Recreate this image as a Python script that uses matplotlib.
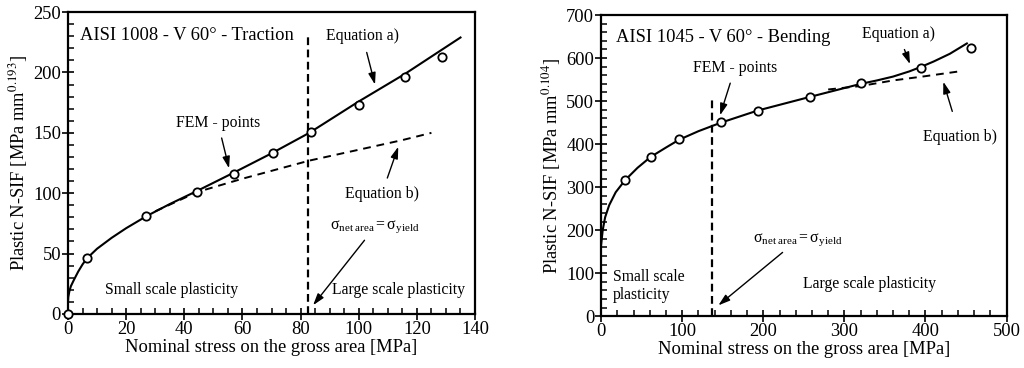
import matplotlib.pyplot as plt
from matplotlib.ticker import MultipleLocator

plt.rcParams['font.family'] = ['Liberation Serif', 'DejaVu Serif']
plt.rcParams['mathtext.fontset'] = 'stix'

# --- left panel: AISI 1008 traction ---
fem1_x = [0, 6.5, 27, 44.5, 57, 70.5, 83.5, 100, 116, 128.5]
fem1_y = [0, 46, 81, 101, 116, 133, 151, 173, 196, 213]
eqa1_x = [0, 0.1, 0.5, 1, 2, 3.5, 5, 6.5, 10, 15, 20, 27, 35, 44.5, 57, 70, 83, 100, 116, 135]
eqa1_y = [10, 14, 19, 23, 28, 35, 41, 46, 54, 63, 71, 81, 91, 102, 117, 133, 150, 176, 199, 229]
eqb1_x = [30, 44.5, 60, 83, 100, 115, 125]
eqb1_y = [85, 101, 112, 127, 136, 144, 150]
yield1_x = 82.5

# --- right panel: AISI 1045 bending ---
fem2_x = [29.5, 61, 96, 148, 193, 258, 320, 395, 456]
fem2_y = [316, 370, 411, 451, 478, 510, 541, 577, 624]
eqa2_x = [0, 2, 5, 10, 18, 29.5, 45, 61, 80, 96, 120, 148, 193, 258, 320, 340, 360, 380, 395, 410, 430, 451]
eqa2_y = [165, 200, 230, 258, 288, 316, 345, 370, 392, 410, 430, 450, 478, 510, 540, 548, 557, 569, 580, 592, 610, 634]
eqb2_x = [280, 320, 360, 400, 445]
eqb2_y = [527, 535, 548, 558, 570]
yield2_x = 137

fig = plt.figure(figsize=(10.24, 3.68), dpi=100)
ax1 = fig.add_axes([0.0664, 0.147, 0.3975, 0.82])
ax2 = fig.add_axes([0.587, 0.141, 0.396, 0.818])

arrow = dict(arrowstyle='-|>,head_length=0.7,head_width=0.22', color='black', lw=1.0,
             mutation_scale=10, shrinkA=2, shrinkB=0)
fs_lab = 13.3
fs_tick = 13.3
fs_txt = 11.3
fs_title = 13.3


def style(ax, xmax, ymax, xmaj, xmin, ymaj, ymin, ylabel):
    ax.set_xlim(0, xmax)
    ax.set_ylim(0, ymax)
    ax.xaxis.set_major_locator(MultipleLocator(xmaj))
    ax.xaxis.set_minor_locator(MultipleLocator(xmin))
    ax.yaxis.set_major_locator(MultipleLocator(ymaj))
    ax.yaxis.set_minor_locator(MultipleLocator(ymin))
    ax.tick_params(which='major', direction='inout', length=8, width=1.2, labelsize=fs_tick, pad=1)
    ax.tick_params(which='minor', direction='in', length=4, width=1.1)
    for s in ax.spines.values():
        s.set_linewidth(1.6)
    ax.set_xlabel('Nominal stress on the gross area [MPa]', fontsize=fs_lab, labelpad=1)
    ax.set_ylabel(ylabel, fontsize=fs_lab, labelpad=2)


# left
ax1.plot(eqa1_x, eqa1_y, color='black', lw=1.5)
ax1.plot(eqb1_x, eqb1_y, color='black', lw=1.4, ls=(0, (4, 3)))
ax1.plot(fem1_x, fem1_y, 'o', mfc='white', mec='black', ms=6, mew=1.3, clip_on=False, zorder=5)
ax1.plot([yield1_x, yield1_x], [0, 232], color='black', lw=1.6, ls=(0, (3.5, 2)))
style(ax1, 140, 250, 20, 5, 50, 10, 'Plastic N-SIF [MPa mm$^{0.193}$]')
ax1.text(4, 231, 'AISI 1008 - V 60° - Traction', fontsize=fs_title, va='center')
ax1.annotate('Equation a)', xy=(105.6, 190), xytext=(101.3, 230), fontsize=fs_txt,
             ha='center', va='center', arrowprops=dict(arrow, shrinkA=4))
ax1.annotate('FEM - points', xy=(55.4, 120.6), xytext=(51.6, 158), fontsize=fs_txt,
             ha='center', va='center', arrowprops=dict(arrow, shrinkA=3))
ax1.annotate('Equation b)', xy=(113.6, 138.5), xytext=(107.9, 99.3), fontsize=fs_txt,
             ha='center', va='center', arrowprops=dict(arrow, shrinkA=4))
ax1.annotate(r'$\mathregular{\sigma_{net\ area} = \sigma_{yield}}$', xy=(84.3, 7.2), xytext=(105.6, 72),
             fontsize=fs_txt, ha='center', va='center', arrowprops=dict(arrow, shrinkA=2))
ax1.text(35.6, 19.6, 'Small scale plasticity', fontsize=fs_txt, ha='center', va='center')
ax1.text(113.6, 19.6, 'Large scale plasticity', fontsize=fs_txt, ha='center', va='center')

# right
ax2.plot(eqa2_x, eqa2_y, color='black', lw=1.5)
ax2.plot(eqb2_x, eqb2_y, color='black', lw=1.4, ls=(0, (4, 3)))
ax2.plot(fem2_x, fem2_y, 'o', mfc='white', mec='black', ms=6, mew=1.3, clip_on=False, zorder=5)
ax2.plot([yield2_x, yield2_x], [0, 502], color='black', lw=1.6, ls=(0, (3.5, 2)))
style(ax2, 500, 700, 100, 20, 100, 20, 'Plastic N-SIF [MPa mm$^{0.104}$]')
ax2.text(18, 648, 'AISI 1045 - V 60° - Bending', fontsize=fs_title, va='center')
ax2.annotate('FEM - points', xy=(146.7, 467), xytext=(165, 576), fontsize=fs_txt,
             ha='center', va='center', arrowprops=dict(arrow, shrinkA=3))
ax2.annotate('Equation a)', xy=(380.9, 586), xytext=(366.5, 657), fontsize=fs_txt,
             ha='center', va='center', arrowprops=dict(arrow, shrinkA=4))
ax2.annotate('Equation b)', xy=(422, 545), xytext=(442.5, 417), fontsize=fs_txt,
             ha='center', va='center', arrowprops=dict(arrow, shrinkA=11))
ax2.annotate(r'$\mathregular{\sigma_{net\ area} = \sigma_{yield}}$', xy=(144.6, 25), xytext=(243, 178),
             fontsize=fs_txt, ha='center', va='center', arrowprops=dict(arrow, shrinkA=2))
ax2.text(15, 70, 'Small scale\nplasticity', fontsize=fs_txt, ha='left', va='center', linespacing=1.1)
ax2.text(331.5, 75, 'Large scale plasticity', fontsize=fs_txt, ha='center', va='center')

fig.savefig('out.png', dpi=100)
